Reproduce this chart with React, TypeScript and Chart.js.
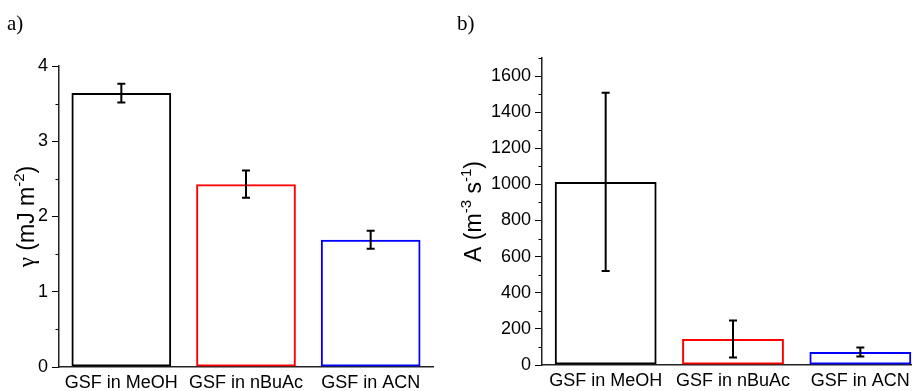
import React, { useEffect, useRef } from 'react';
import { Chart, registerables } from 'chart.js';

Chart.register(...registerables);

const categories = ['GSF in MeOH', 'GSF in nBuAc', 'GSF in ACN'];
const gammaValues = [3.64, 2.43, 1.69];
const gammaErrors = [0.125, 0.18, 0.12];
const rateValues = [1014, 144, 72];
const rateErrors = [493, 103, 25];
const barColors = ['#000000', '#ff0000', '#0000ff'];

const SANS = '"Liberation Sans", Arial, sans-serif';
const SERIF = '"Liberation Serif", "Times New Roman", serif';

type Seg = { t: string; font: string; rise?: number };

function makeDecor(opts: {
  errors: number[];
  minorStart: number;
  majorStep: number;
  yMax: number;
  title: Seg[];
  titleX: number;
  label: string;
  labelX: number;
  labelY: number;
}) {
  return {
    id: 'decor',
    afterDraw(chart: any) {
      const ctx = chart.ctx;
      const y = chart.scales.y;
      const area = chart.chartArea;
      ctx.save();
      // minor ticks
      ctx.strokeStyle = '#000';
      ctx.lineWidth = 1;
      for (let v = opts.minorStart; v <= opts.yMax + 1e-9; v += opts.majorStep) {
        const py = Math.round(y.getPixelForValue(v)) + 0.5;
        ctx.beginPath();
        ctx.moveTo(area.left - 3.5, py);
        ctx.lineTo(area.left, py);
        ctx.stroke();
      }
      // error bars
      const meta = chart.getDatasetMeta(0);
      const data = chart.data.datasets[0].data as number[];
      ctx.lineWidth = 2;
      ctx.strokeStyle = '#000';
      meta.data.forEach((bar: any, i: number) => {
        const top = y.getPixelForValue(data[i] + opts.errors[i]);
        const bot = y.getPixelForValue(data[i] - opts.errors[i]);
        const x = bar.x;
        ctx.beginPath();
        ctx.moveTo(x, top);
        ctx.lineTo(x, bot);
        ctx.moveTo(x - 4, top);
        ctx.lineTo(x + 4, top);
        ctx.moveTo(x - 4, bot);
        ctx.lineTo(x + 4, bot);
        ctx.stroke();
      });
      // axis title
      ctx.fillStyle = '#000';
      ctx.textBaseline = 'middle';
      ctx.textAlign = 'left';
      let total = 0;
      opts.title.forEach((s) => {
        ctx.font = s.font;
        total += ctx.measureText(s.t).width;
      });
      ctx.translate(opts.titleX, (area.top + area.bottom) / 2);
      ctx.rotate(-Math.PI / 2);
      let cx = -total / 2;
      opts.title.forEach((s) => {
        ctx.font = s.font;
        ctx.fillText(s.t, cx, -(s.rise || 0));
        cx += ctx.measureText(s.t).width;
      });
      ctx.setTransform(1, 0, 0, 1, 0, 0);
      // panel label
      ctx.font = `21px ${SERIF}`;
      ctx.textBaseline = 'middle';
      ctx.fillText(opts.label, opts.labelX, opts.labelY);
      ctx.restore();
    },
  };
}

function makeConfig(p: {
  values: number[];
  errors: number[];
  yMax: number;
  step: number;
  yWidth: number;
  xHeight: number;
  padTop: number;
  padRight: number;
  title: Seg[];
  titleX: number;
  label: string;
  labelX: number;
}) {
  const font = { family: SANS, size: 18 };
  return {
    type: 'bar' as const,
    data: {
      labels: categories,
      datasets: [
        {
          data: p.values,
          backgroundColor: 'rgba(255,255,255,0)',
          borderColor: barColors,
          borderWidth: 2,
          borderSkipped: false,
          barPercentage: 0.8,
          categoryPercentage: 1,
        },
      ],
    },
    options: {
      animation: false as const,
      responsive: false,
      layout: { padding: { left: 0, right: p.padRight, top: p.padTop, bottom: 0 } },
      plugins: { legend: { display: false }, tooltip: { enabled: false }, title: { display: false } },
      scales: {
        x: {
          grid: { display: false, drawTicks: false, tickLength: 0 },
          border: { display: true, color: '#222', width: 1.5 },
          ticks: { color: '#000', font, padding: 5, maxRotation: 0, autoSkip: false },
          afterFit: (s: any) => {
            s.height = p.xHeight;
          },
        },
        y: {
          min: 0,
          max: p.yMax,
          grid: { display: true, drawOnChartArea: false, drawTicks: true, tickLength: 7, color: '#000', tickWidth: 1 },
          border: { display: true, color: '#222', width: 1.5 },
          ticks: {
            stepSize: p.step,
            includeBounds: false,
            color: '#000',
            font,
            padding: 4,
            callback: (v: any) => String(v),
          },
          afterFit: (s: any) => {
            s.width = p.yWidth;
          },
        },
      },
    },
    plugins: [
      makeDecor({
        errors: p.errors,
        minorStart: p.step / 2,
        majorStep: p.step,
        yMax: p.yMax,
        title: p.title,
        titleX: p.titleX,
        label: p.label,
        labelX: p.labelX,
        labelY: 24,
      }),
    ],
  };
}

function Panel(props: { left: number; width: number; config: any }) {
  const ref = useRef<HTMLCanvasElement | null>(null);
  useEffect(() => {
    if (!ref.current) return;
    const chart = new Chart(ref.current, props.config);
    return () => chart.destroy();
  }, []);
  return (
    <canvas
      ref={ref}
      width={props.width}
      height={391}
      style={{ position: 'absolute', left: props.left, top: 0, width: props.width, height: 391 }}
    />
  );
}

export default function App() {
  const main = `23px ${SANS}`;
  const sup = `15px ${SANS}`;
  const configA = makeConfig({
    values: gammaValues,
    errors: gammaErrors,
    yMax: 4,
    step: 1,
    yWidth: 59,
    xHeight: 24,
    padTop: 66,
    padRight: 27,
    title: [
      { t: 'γ', font: `23px ${SERIF}` },
      { t: ' (mJ m', font: main },
      { t: '-2', font: sup, rise: 8 },
      { t: ')', font: main },
    ],
    titleX: 28,
    label: 'a)',
    labelX: 7,
  });
  const configB = makeConfig({
    values: rateValues,
    errors: rateErrors,
    yMax: 1700,
    step: 200,
    yWidth: 92,
    xHeight: 26,
    padTop: 58,
    padRight: 16,
    title: [
      { t: 'A (m', font: main },
      { t: '-3', font: sup, rise: 8 },
      { t: ' s', font: main },
      { t: '-1', font: sup, rise: 8 },
      { t: ')', font: main },
    ],
    titleX: 25,
    label: 'b)',
    labelX: 7,
  });
  return (
    <div
      style={{
        position: 'absolute',
        left: 0,
        top: 0,
        width: 912,
        height: 391,
        overflow: 'hidden',
        background: '#fff',
      }}
    >
      <Panel left={0} width={460} config={configA} />
      <Panel left={450} width={490} config={configB} />
    </div>
  );
}
